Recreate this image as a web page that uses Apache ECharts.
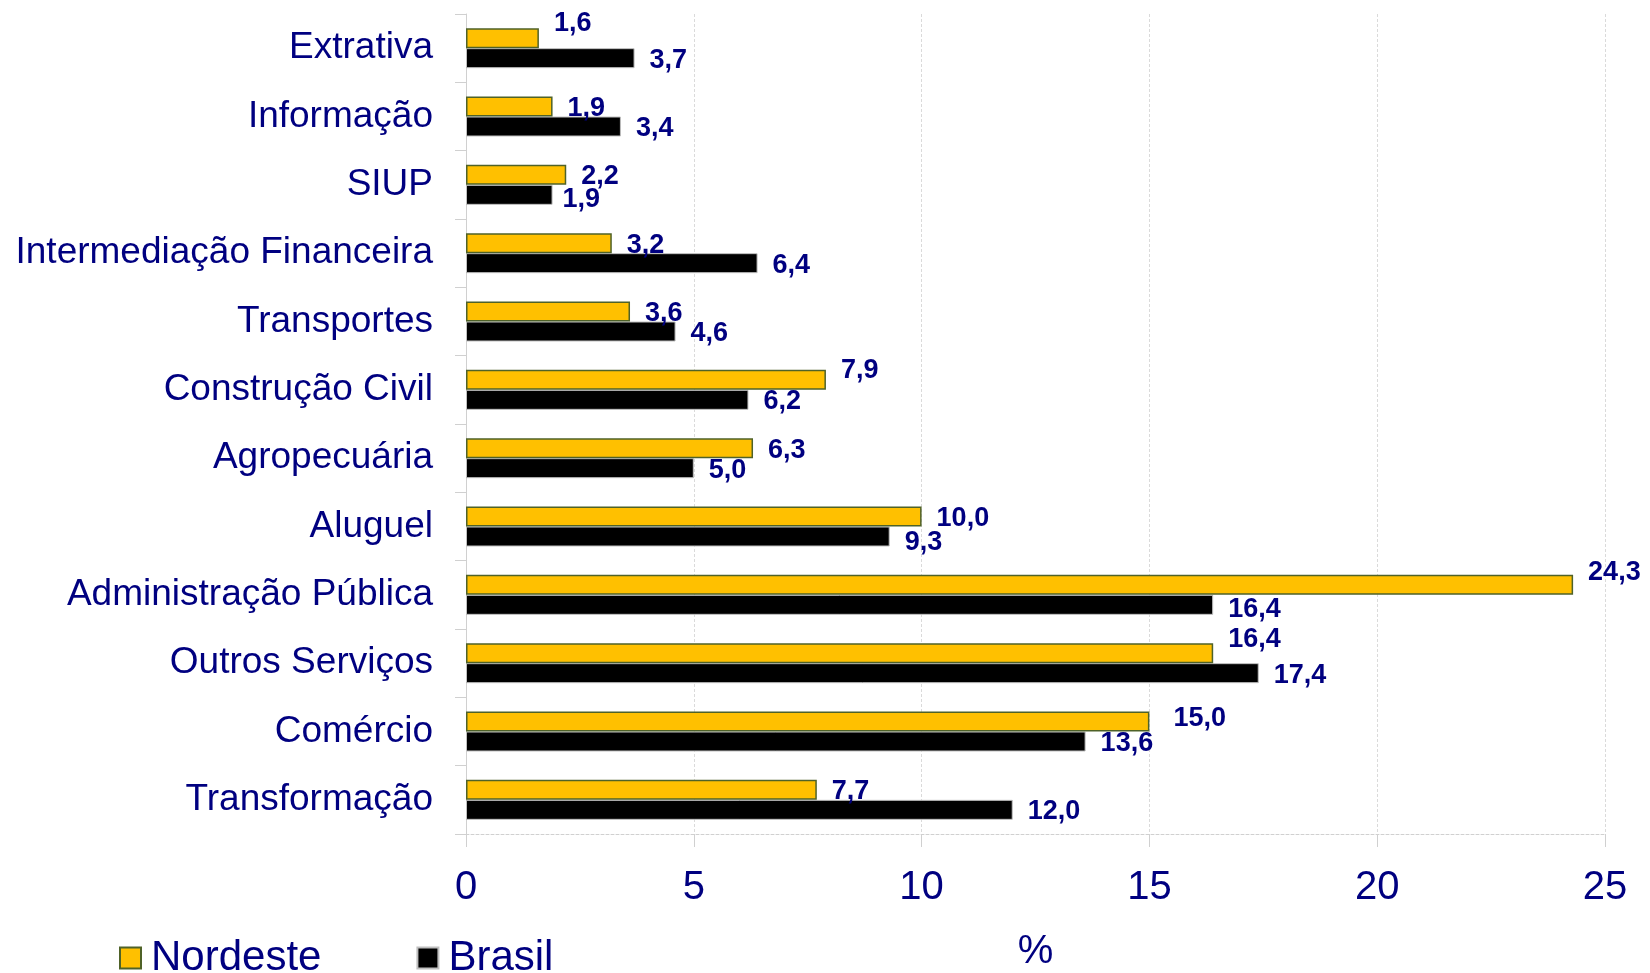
<!DOCTYPE html>
<html>
<head>
<meta charset="utf-8">
<script src="https://cdn.jsdelivr.net/npm/echarts@6/dist/echarts.min.js"></script>
<style>
  html, body { margin: 0; padding: 0; background: #fff; }
  #chart { width: 1650px; height: 973px; }
</style>
</head>
<body>
<div id="chart"></div>
<script>
const categories = [
  'Extrativa', 'Informação', 'SIUP', 'Intermediação Financeira', 'Transportes',
  'Construção Civil', 'Agropecuária', 'Aluguel', 'Administração Pública',
  'Outros Serviços', 'Comércio', 'Transformação'
]
const nordeste = [1.6, 1.9, 2.2, 3.2, 3.6, 7.9, 6.3, 10.0, 24.3, 16.4, 15.0, 7.7]
const brasil = [3.7, 3.4, 1.9, 6.4, 4.6, 6.2, 5.0, 9.3, 16.4, 17.4, 13.6, 12.0]
const xTicks = [0, 5, 10, 15, 20, 25]

// hand-moved labels in the original (pixel nudges, by category)
const nordesteNudge = {
  'Extrativa': [0, -15], 'Construção Civil': [0, -9], 'Administração Pública': [0, -12],
  'Outros Serviços': [0, -14], 'Comércio': [9, -3]
}
const brasilNudge = { 'SIUP': [-5, 5], 'Aluguel': [0, 6], 'Administração Pública': [0, 5] }

const navy = '#000080'
const font = 'Liberation Sans, Arial, sans-serif'
const fmt = (p) => p.value.toFixed(1).replace('.', ',')

function withNudge(values, nudge) {
  return values.map((v, i) => {
    const off = nudge[categories[i]] || [0, 2]
    return { value: v, label: { offset: off } }
  })
}

const labelStyle = {
  show: true,
  position: 'right',
  distance: 15,
  formatter: fmt,
  color: navy,
  fontFamily: font,
  fontWeight: 'bold',
  fontSize: 27
}

const chart = echarts.init(document.getElementById('chart'))
chart.setOption({
  animation: false,
  grid: { left: 466, right: 45, top: 14, bottom: 139, outerBoundsMode: 'none' },
  legend: {
    left: 119,
    top: 937,
    padding: 0,
    itemWidth: 21,
    itemHeight: 21,
    itemGap: 95,
    icon: 'rect',
    textStyle: { color: navy, fontFamily: font, fontSize: 42, padding: [0, 0, 0, 5] },
    data: ['Nordeste', 'Brasil']
  },
  xAxis: {
    type: 'value',
    min: xTicks[0],
    max: xTicks[xTicks.length - 1],
    interval: 5,
    name: '%',
    nameLocation: 'middle',
    nameGap: 98,
    nameTextStyle: { color: navy, fontFamily: font, fontSize: 40 },
    axisLine: { show: true, lineStyle: { color: '#d0d0d0', type: [3, 2] } },
    axisTick: { show: true, length: 13, lineStyle: { color: '#d0d0d0' } },
    axisLabel: { color: navy, fontFamily: font, fontSize: 40, margin: 34 },
    splitLine: { show: true, lineStyle: { color: '#dadada', type: [3, 2] } }
  },
  yAxis: {
    type: 'category',
    inverse: true,
    data: categories,
    axisLine: { show: true, lineStyle: { color: '#d0d0d0' } },
    axisTick: { show: true, length: 11, lineStyle: { color: '#d0d0d0' } },
    axisLabel: { color: navy, fontFamily: font, fontSize: 37, margin: 33, padding: [8, 0, 0, 0] },
    splitLine: { show: false }
  },
  series: [
    {
      name: 'Nordeste',
      type: 'bar',
      data: withNudge(nordeste, nordesteNudge),
      barWidth: 20,
      barGap: '0%',
      itemStyle: { color: '#FFC000', borderColor: '#4F6228', borderWidth: 1.5 },
      label: labelStyle,
      z: 3
    },
    {
      name: 'Brasil',
      type: 'bar',
      data: withNudge(brasil, brasilNudge),
      barWidth: 20,
      barGap: '0%',
      itemStyle: { color: '#000000', borderColor: '#bfbfbf', borderWidth: 1 },
      label: labelStyle,
      z: 2
    }
  ]
})
</script>
</body>
</html>
